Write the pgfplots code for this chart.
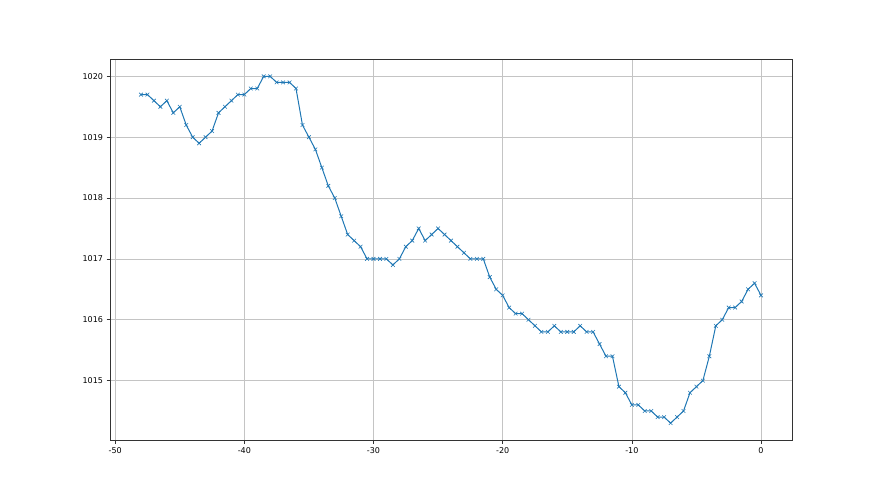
\documentclass[border=0pt]{standalone}
\usepackage{fontspec}
\setmainfont{DejaVu Sans}
\usepackage{pgfplots}
\pgfplotsset{compat=1.18}
\definecolor{mplblue}{HTML}{1F77B4}
\definecolor{gridgray}{HTML}{C4C4C4}
\definecolor{spine}{HTML}{333333}
\begin{document}
\begin{tikzpicture}[x=1pt,y=1pt]
\path[use as bounding box] (0,0) rectangle (880,495);
\begin{axis}[
  at={(110pt,54.5pt)}, anchor=south west,
  scale only axis, width=682pt, height=381.5pt,
  xmin=-50.4, xmax=2.4, ymin=1014.015, ymax=1020.285,
  xtick={-50,-40,-30,-20,-10,0},
  ytick={1015,1016,1017,1018,1019,1020},
  grid=major,
  major grid style={color=gridgray, line width=0.6pt},
  tick align=outside, tick pos=left,
  major tick length=3.5pt,
  every tick/.style={spine, line width=0.6pt},
  axis line style={spine, line width=0.7pt},
  tick label style={font=\fontsize{8}{9.5}\selectfont, text=black},
  /pgf/number format/assume math mode=true,
  /pgf/number format/1000 sep={},
  xticklabel style={/pgf/number format/.cd, fixed},
]
\addplot[color=mplblue, line width=1pt, mark=x, mark size=2.6pt, mark options={line width=0.6pt}] coordinates {
(-48,1019.7) (-47.5,1019.7) (-47,1019.6) (-46.5,1019.5) (-46,1019.6) (-45.5,1019.4) (-45,1019.5) (-44.5,1019.2)
(-44,1019.0) (-43.5,1018.9) (-43,1019.0) (-42.5,1019.1) (-42,1019.4) (-41.5,1019.5) (-41,1019.6) (-40.5,1019.7)
(-40,1019.7) (-39.5,1019.8) (-39,1019.8) (-38.5,1020.0) (-38,1020.0) (-37.5,1019.9) (-37,1019.9) (-36.5,1019.9)
(-36,1019.8) (-35.5,1019.2) (-35,1019.0) (-34.5,1018.8) (-34,1018.5) (-33.5,1018.2) (-33,1018.0) (-32.5,1017.7)
(-32,1017.4) (-31.5,1017.3) (-31,1017.2) (-30.5,1017.0) (-30,1017.0) (-29.5,1017.0) (-29,1017.0) (-28.5,1016.9)
(-28,1017.0) (-27.5,1017.2) (-27,1017.3) (-26.5,1017.5) (-26,1017.3) (-25.5,1017.4) (-25,1017.5) (-24.5,1017.4)
(-24,1017.3) (-23.5,1017.2) (-23,1017.1) (-22.5,1017.0) (-22,1017.0) (-21.5,1017.0) (-21,1016.7) (-20.5,1016.5)
(-20,1016.4) (-19.5,1016.2) (-19,1016.1) (-18.5,1016.1) (-18,1016.0) (-17.5,1015.9) (-17,1015.8) (-16.5,1015.8)
(-16,1015.9) (-15.5,1015.8) (-15,1015.8) (-14.5,1015.8) (-14,1015.9) (-13.5,1015.8) (-13,1015.8) (-12.5,1015.6)
(-12,1015.4) (-11.5,1015.4) (-11,1014.9) (-10.5,1014.8) (-10,1014.6) (-9.5,1014.6) (-9,1014.5) (-8.5,1014.5)
(-8,1014.4) (-7.5,1014.4) (-7,1014.3) (-6.5,1014.4) (-6,1014.5) (-5.5,1014.8) (-5,1014.9) (-4.5,1015.0)
(-4,1015.4) (-3.5,1015.9) (-3,1016.0) (-2.5,1016.2) (-2,1016.2) (-1.5,1016.3) (-1,1016.5) (-0.5,1016.6)
(0,1016.4)
};
\end{axis}
\end{tikzpicture}
\end{document}
